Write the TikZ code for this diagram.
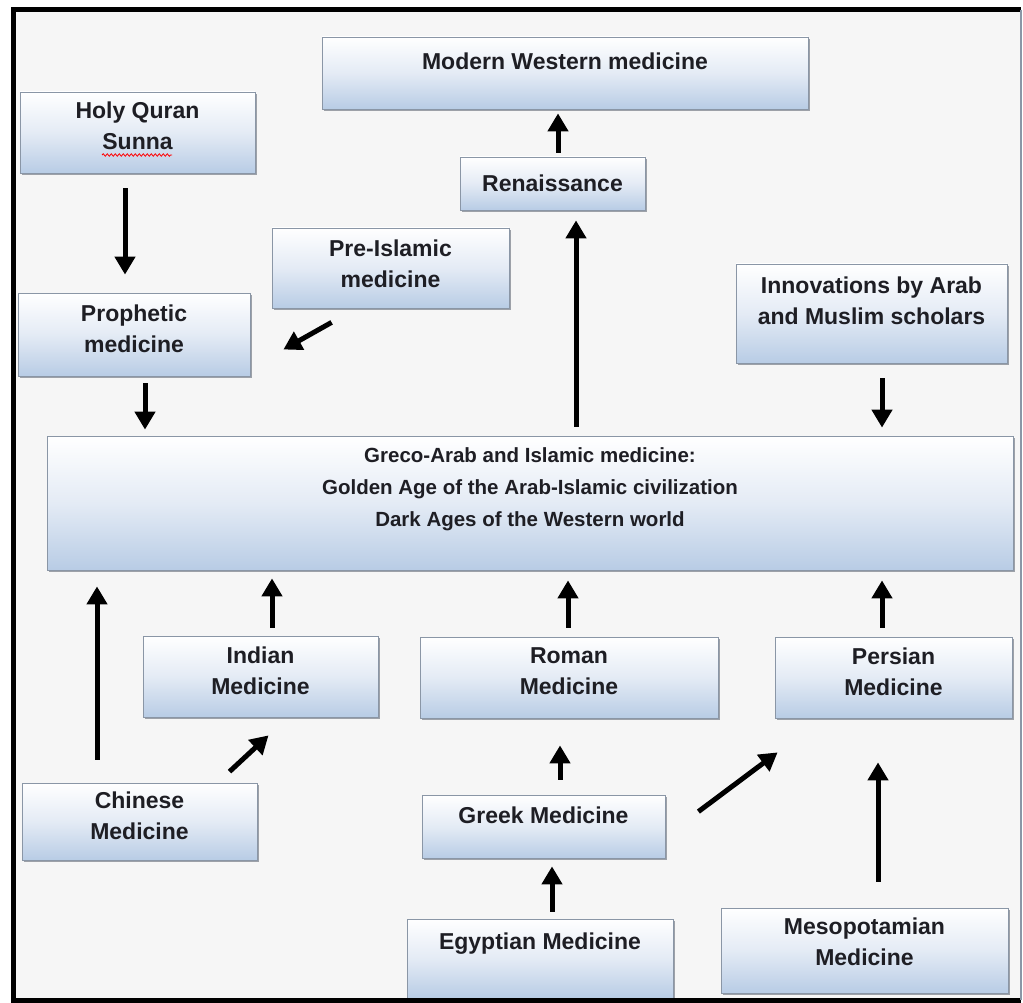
\documentclass[tikz,border=0pt]{standalone}
\usepackage{fontspec}
\setmainfont{Liberation Sans}
\usetikzlibrary{arrows.meta,calc,shadows,decorations.pathmorphing}
\definecolor{medcolor0001}{RGB}{246,246,246}
\definecolor{medcolor0002}{RGB}{184,204,229}
\definecolor{medcolor0003}{RGB}{138,150,166}
\definecolor{medcolor0004}{RGB}{30,30,36}
\definecolor{medcolor0005}{RGB}{120,126,136}
\definecolor{medcolor0006}{RGB}{228,235,245}
\newcommand{\medtext}[4]{\parbox[c][#2pt][t]{#1pt}{\centering\vspace*{#3pt}#4}}

\begin{document}
\begin{tikzpicture}[yscale=-1
,pstyle0/.style={fill=medcolor0001,draw=none}
,pstyle1/.style={draw=medcolor0003,line width=0.8pt,inner sep=0pt,top color=white,bottom color=medcolor0002,middle color=medcolor0006,text=medcolor0004,font=\fontsize{23pt}{31pt}\selectfont\bfseries,drop shadow={shadow xshift=1.5pt,shadow yshift=-2pt,opacity=0.7,fill=medcolor0005}}
,pstyle2/.style={color=black,line width=5pt,-{Triangle[width=20pt,length=18pt]}}
,pstyle3/.style={color=black,line width=5pt}
,pstyle4/.style={font=\fontsize{20.5pt}{32pt}\selectfont\bfseries}
]
\useasboundingbox (0pt,0pt) rectangle (1023pt,1003pt);
\fill[pstyle0] (13pt,10pt) rectangle (1021pt,1000pt);
\node[pstyle1] (mwm) at (565pt,73pt) {\medtext{486}{72}{16}{Modern Western medicine}};
\node[pstyle1] (quran) at (137.5pt,132.5pt) {\medtext{235}{81}{10}{Holy Quran\\Sunna}};
\draw[red,line width=0.8pt,decorate,decoration={snake,amplitude=1.2pt,segment length=4pt}] (102pt,155pt) -- (172pt,155pt);
\node[pstyle1] (renais) at (552.5pt,183.5pt) {\medtext{185}{53}{18}{Renaissance}};
\node[pstyle1] (preisl) at (390.5pt,268pt) {\medtext{237}{80}{12}{Pre-Islamic\\medicine}};
\node[pstyle1] (innov) at (871.5pt,313.5pt) {\medtext{271}{99}{13}{Innovations by Arab\\and Muslim scholars}};
\node[pstyle1] (prophet) at (134pt,334.5pt) {\medtext{232}{83}{12}{Prophetic\\medicine}};
\node[pstyle1,pstyle4] (greco) at (530pt,503pt) {\medtext{966}{134}{12}{Greco-Arab and Islamic medicine:\\Golden Age of the Arab-Islamic civilization\\Dark Ages of the Western world}};
\node[pstyle1] (indian) at (260.5pt,676.5pt) {\medtext{235}{81}{11}{Indian\\Medicine}};
\node[pstyle1] (roman) at (569pt,677.5pt) {\medtext{298}{81}{11}{Roman\\Medicine}};
\node[pstyle1] (persian) at (893.5pt,677.5pt) {\medtext{237}{81}{11}{Persian\\Medicine}};
\node[pstyle1] (chinese) at (139.5pt,821.5pt) {\medtext{235}{77}{9}{Chinese\\Medicine}};
\node[pstyle1] (greek) at (543.5pt,826.5pt) {\medtext{243}{63}{12}{Greek Medicine}};
\node[pstyle1] (egypt) at (540pt,958.5pt) {\medtext{266}{79}{14}{Egyptian Medicine}};
\node[pstyle1] (meso) at (864.5pt,950.5pt) {\medtext{287}{85}{10}{Mesopotamian\\Medicine}};
% arrows
\draw[pstyle2,shorten <=4pt,shorten >=4pt] (renais.north -| 558pt,0) -- (mwm.south -| 558pt,0);
\draw[pstyle2,shorten <=15pt,shorten >=18pt] (quran.south -| 125pt,0) -- (prophet.north -| 125pt,0);
\draw[pstyle2] ($(preisl.south west)+(60pt,14pt)$) -- ($(prophet.east)+(33pt,15pt)$);
\draw[pstyle2,shorten <=7pt,shorten >=6pt] (prophet.south -| 145pt,0) -- (greco.north -| 145pt,0);
\draw[pstyle2,shorten <=9pt,shorten >=10pt] (greco.north -| 576pt,0) -- (renais.south -| 576pt,0);
\draw[pstyle2,shorten <=15pt,shorten >=8pt] (innov.south -| 882pt,0) -- (greco.north -| 882pt,0);
\draw[pstyle2,shorten <=23pt,shorten >=16pt] (chinese.north -| 97pt,0) -- (greco.south -| 97pt,0);
\draw[pstyle2,shorten <=8pt,shorten >=8pt] (indian.north -| 272pt,0) -- (greco.south -| 272pt,0);
\draw[pstyle2,shorten <=9pt,shorten >=10pt] (roman.north -| 568pt,0) -- (greco.south -| 568pt,0);
\draw[pstyle2,shorten <=9pt,shorten >=10pt] (persian.north -| 882pt,0) -- (greco.south -| 882pt,0);
\draw[pstyle2] ($(chinese.north)+(90pt,-11pt)$) -- ($(indian.south)+(8pt,18pt)$);
\draw[pstyle2,shorten <=15pt,shorten >=27pt] (greek.north -| 560pt,0) -- (roman.south -| 560pt,0);
\draw[pstyle2] ($(greek.north east)+(33pt,17pt)$) -- ($(persian.south west)+(3pt,34pt)$);
\draw[pstyle2,shorten <=7pt,shorten >=8pt] (egypt.north -| 552pt,0) -- (greek.south -| 552pt,0);
\draw[pstyle2,shorten <=26pt,shorten >=44pt] (meso.north -| 878pt,0) -- (persian.south -| 878pt,0);
% frame
\draw[pstyle3] (1021pt,10pt) -- (13pt,10pt) -- (13pt,1000pt) -- (1021pt,1000pt);
\draw[color=medcolor0003,line width=1.5pt] (1021pt,10pt) -- (1021pt,1000pt);
\end{tikzpicture}
\end{document}
